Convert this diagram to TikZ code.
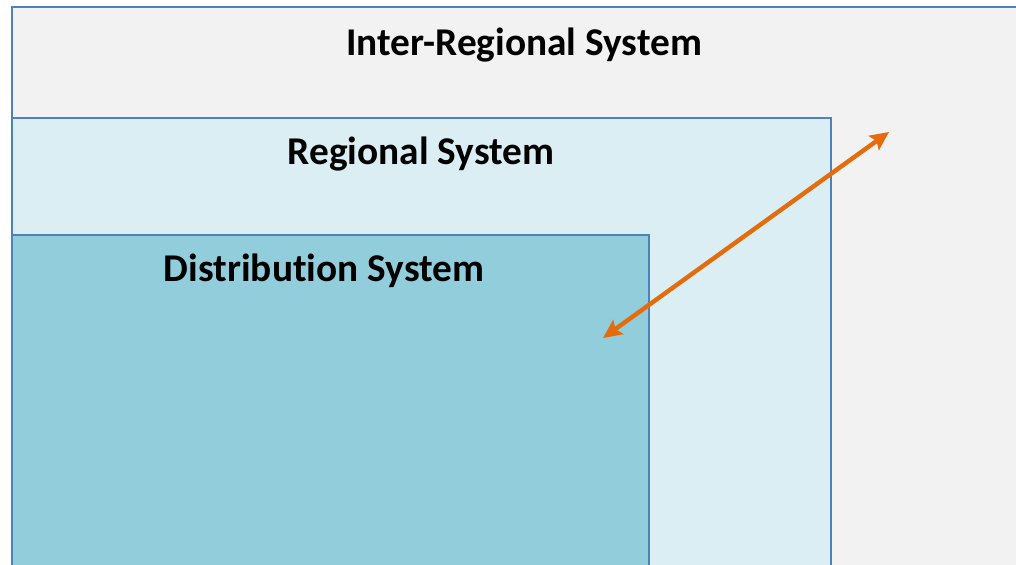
\documentclass[tikz,border=0pt]{standalone}
\usepackage{fontspec}
\setmainfont{Carlito}[Ligatures=CommonOff]
\usepackage{tikz}
\usetikzlibrary{arrows.meta, positioning}

\definecolor{sysblue}{RGB}{79,129,189}
\definecolor{interfill}{RGB}{242,242,242}
\definecolor{regfill}{RGB}{218,238,243}
\definecolor{distfill}{RGB}{146,205,220}
\definecolor{linkorange}{RGB}{228,108,10}

\tikzset{
  sysbox/.style={draw=sysblue, line width=1.1pt},
  systitle/.style={font=\bfseries\fontsize{29.5}{34}\selectfont, text=black},
  linkarrow/.style={draw=linkorange, line width=3.3pt,
    {Stealth[length=14pt,width=13pt,inset=2.5pt]}-{Stealth[length=14pt,width=13pt,inset=2.5pt]}}
}

\begin{document}
\begin{tikzpicture}[x=0.75pt,y=0.75pt,yscale=-1,xscale=1]
\useasboundingbox (0,0) rectangle (1016,564);
\clip (0,0) rectangle (1016,564);

%Shape: Rectangle [inter-regional]
\draw [sysbox, fill=interfill] (12,7) rectangle (1030,580);
%Shape: Rectangle [regional]
\draw [sysbox, fill=regfill] (12,118) rectangle (831,580);
%Shape: Rectangle [distribution]
\draw [sysbox, fill=distfill] (12,235) rectangle (649,580);

% Text Node
\node [systitle] (interlbl) at (524,45) {Inter-Regional System};
% Text Node
\node [systitle] (reglbl) at (421,154) {Regional System};
% Text Node
\node [systitle] (distlbl) at (324,271) {Distribution System};

%Straight Lines [link]
\coordinate (linkin) at (603,338);
\coordinate (linkout) at (889,132);
\draw [linkarrow] (linkin) -- (linkout);

\end{tikzpicture}
\end{document}
